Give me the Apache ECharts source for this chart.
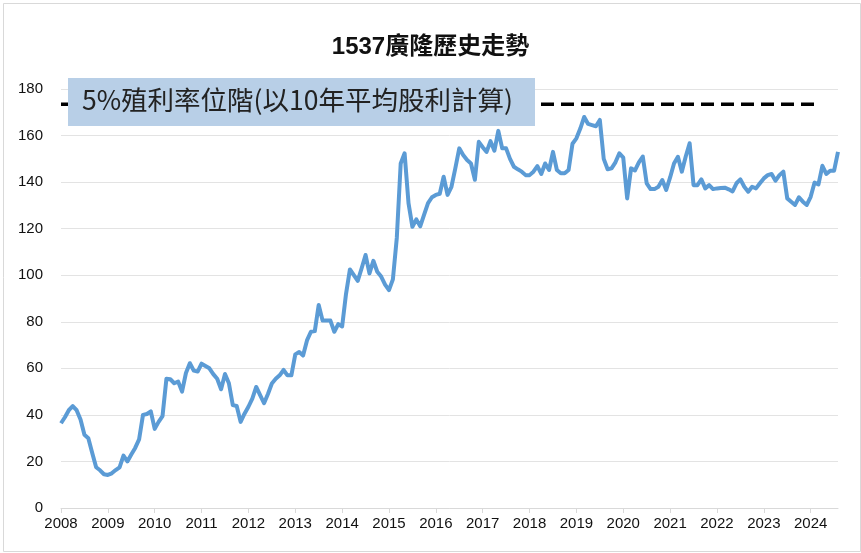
<!DOCTYPE html>
<html lang="zh-Hant">
<head>
    <meta charset="UTF-8">
    <title>1537廣隆歷史走勢</title>
    <style>
        html, body { margin: 0; padding: 0; background: #fff; }
        #main { width: 861px; height: 553px; }
    </style>
</head>
<body>
<div id="main"></div>
<script src="https://cdn.jsdelivr.net/npm/echarts@6/dist/echarts.min.js"></script>
<script>
// 月份: 2008-01 ~ 2024-08
const startYear = 2008;
const monthCount = 200;
const months = [];
for (let i = 0; i < monthCount; i++) {
    const y = startYear + Math.floor(i / 12);
    const m = (i % 12) + 1;
    months.push(y + '-' + (m < 10 ? '0' + m : m));
}

// 月收盤價
const prices = [
    36.4, 39, 42, 43.8, 42, 38, 31.5, 30, 23.6, 17.5, 16.2, 14.5,          // 2008
    14.2, 14.9, 16.3, 17.5, 22.5, 20, 23, 25.8, 29.5, 40, 40.4, 41.5,      // 2009
    34, 37, 39.5, 55.5, 55.3, 53.6, 54.3, 50, 58, 62.2, 59, 58.6,          // 2010
    62, 61, 60, 57.5, 55.5, 51, 57.6, 53.6, 44.2, 43.8, 37, 40.5,          // 2011
    43.5, 47, 52, 48.5, 45, 49, 53.5, 55.5, 57, 59.3, 57, 57,              // 2012
    66, 67, 65.5, 72, 75.7, 76, 87.2, 80.5, 80.6, 80.5, 75.7, 79,          // 2013
    78, 92, 102.5, 100, 97.6, 103, 108.7, 100.8, 106.2, 101.5, 99.4, 96,   // 2014
    93.6, 98.2, 116, 148, 152.4, 131, 120.8, 124, 121, 126, 131, 133.5,    // 2015
    134.5, 135, 142.3, 134.5, 138, 146, 154.5, 151.6, 149.5, 148, 141, 157.3, // 2016
    155, 153, 157.6, 153.5, 162, 154.5, 154.5, 150, 146.6, 145.5, 144.5, 143, // 2017
    143, 144.5, 146.9, 143.5, 148, 145.2, 153, 145.2, 143.8, 143.8, 145.2, 156.5, // 2018
    158.8, 163, 168, 165, 164.5, 164, 166.7, 150, 145.5, 145.9, 148.5, 152.4, // 2019
    150.5, 133, 145.9, 145, 148.5, 151, 139.5, 137, 137, 138, 140.9, 136.6,  // 2020
    142, 148, 150.9, 144.5, 151, 156.7, 138.7, 138.7, 141.2, 137.3, 138.7, 137, // 2021
    137.3, 137.5, 137.6, 136.9, 136, 139.5, 141.2, 138, 135.9, 138, 137.3, 139.5, // 2022
    141.6, 143, 143.5, 140.6, 143, 144.5, 133, 131.6, 130.2, 133.5, 131.6, 130.2, // 2023
    133.7, 139.8, 139, 147, 143.5, 144.9, 144.9, 153                        // 2024
];

// 5%殖利率位階
const yieldLevel = 173.5;
const yieldEndIndex = 194;
const yieldLine = months.map((m, i) => i <= yieldEndIndex ? yieldLevel : null);

// y 軸刻度
const yMin = 0;
const yMax = 180;
const yStep = 20;

const myChart = echarts.init(document.getElementById('main'));

const option = {
    animation: false,
    backgroundColor: '#fff',
    title: {
        text: '1537廣隆歷史走勢',
        left: 'center',
        top: 30,
        textStyle: {
            fontFamily: 'Liberation Sans, Noto Sans CJK TC',
            fontSize: 24,
            fontWeight: 'bold',
            color: '#111'
        }
    },
    grid: { left: 61, right: 23, top: 89, bottom: 45 },
    xAxis: {
        type: 'category',
        data: months,
        boundaryGap: false,
        axisLine: { lineStyle: { color: '#d9d9d9' } },
        axisTick: {
            interval: (i) => i % 12 === 0,
            length: 5,
            lineStyle: { color: '#d9d9d9' }
        },
        axisLabel: {
            interval: (i) => i % 12 === 0,
            formatter: (v) => v.slice(0, 4),
            fontFamily: 'Liberation Sans',
            fontSize: 15,
            color: '#111',
            margin: 8
        },
        splitLine: { show: false }
    },
    yAxis: {
        type: 'value',
        min: yMin,
        max: yMax,
        interval: yStep,
        axisLine: { show: false },
        axisTick: { show: false },
        axisLabel: {
            fontFamily: 'Liberation Sans',
            fontSize: 15,
            color: '#111',
            margin: 18
        },
        splitLine: { lineStyle: { color: '#e3e3e3' } }
    },
    series: [
        {
            name: '5%殖利率位階',
            type: 'line',
            data: yieldLine,
            symbol: 'none',
            lineStyle: { color: '#000', width: 3.5, type: [13, 7] },
            z: 2
        },
        {
            name: '股價',
            type: 'line',
            data: prices,
            symbol: 'none',
            lineStyle: { color: '#5b9bd5', width: 4, join: 'round' },
            z: 3
        }
    ],
    graphic: [
        {
            type: 'rect',
            left: 1, top: 1,
            shape: { width: 857, height: 548 },
            style: { fill: 'none', stroke: '#d9d9d9', lineWidth: 1 },
            silent: true
        },
        {
            type: 'rect',
            left: 68, top: 78,
            shape: { width: 467, height: 48 },
            style: { fill: '#b8cfe7' },
            z: 10
        },
        {
            type: 'text',
            left: 82, top: 87,
            style: {
                text: '5%殖利率位階(以10年平均股利計算)',
                fontFamily: 'Noto Sans CJK TC',
                fontSize: 26.5,
                fill: '#222'
            },
            z: 11
        }
    ]
};

myChart.setOption(option);
</script>
</body>
</html>
